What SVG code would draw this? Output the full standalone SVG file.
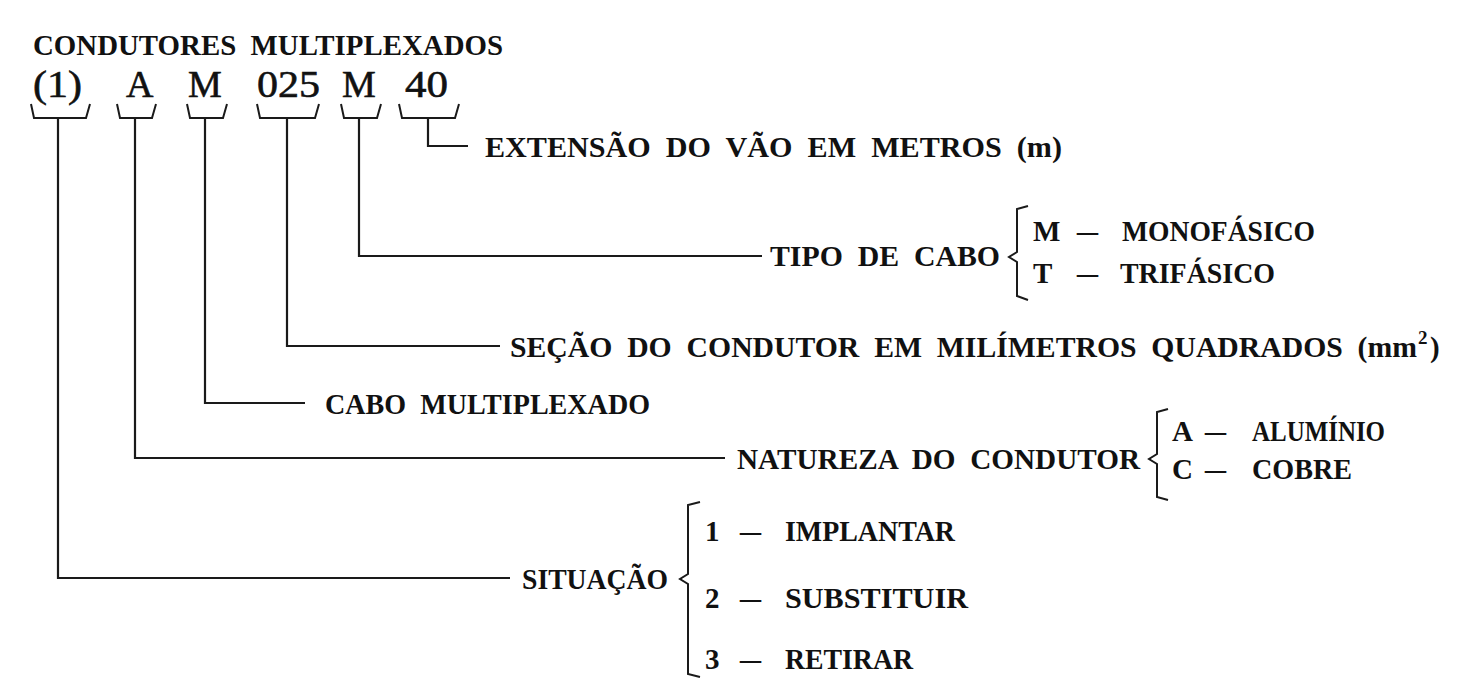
<svg xmlns="http://www.w3.org/2000/svg" width="1464" height="696" viewBox="0 0 1464 696">
<style>
.t{font-family:"Liberation Serif","Times New Roman",serif;font-weight:bold;font-size:29px;fill:#111;white-space:pre}
.c{font-family:"Liberation Serif","Times New Roman",serif;font-size:38px;fill:#111;stroke:#111;stroke-width:0.6}
.h{font-family:"Liberation Serif","Times New Roman",serif;font-weight:bold;font-size:29px;fill:#111;white-space:pre}
.ln{fill:none;stroke:#1a1a1a;stroke-width:2.2;stroke-linejoin:miter}
.br{fill:none;stroke:#1a1a1a;stroke-width:2}
</style>
<rect width="1464" height="696" fill="#fff"/>
<g id="title">
<text class="h" x="33" y="55" textLength="470" lengthAdjust="spacingAndGlyphs" xml:space="preserve">CONDUTORES  MULTIPLEXADOS</text>
</g>
<g id="code">
<text class="c" x="33" y="97" textLength="49" lengthAdjust="spacingAndGlyphs">(1)</text>
<text class="c" x="126" y="97">A</text>
<text class="c" x="188" y="97">M</text>
<text class="c" x="257" y="97" textLength="63" lengthAdjust="spacingAndGlyphs">025</text>
<text class="c" x="342" y="97">M</text>
<text class="c" x="405" y="97" textLength="43" lengthAdjust="spacingAndGlyphs">40</text>
</g>
<g id="connectors">
<path class="br" d="M31,104 L34,118 L86,118 L90,104"/>
<path class="br" d="M117,104 L120,118 L152,118 L156,104"/>
<path class="br" d="M187,104 L190,118 L223,118 L227,104"/>
<path class="br" d="M257,104 L260,118 L315,118 L319,104"/>
<path class="br" d="M341,104 L344,118 L377,118 L381,104"/>
<path class="br" d="M399,104 L402,118 L455,118 L459,104"/>
<path class="ln" d="M58,118 L58,578 L510,578"/>
<path class="ln" d="M135,118 L135,458 L725,458"/>
<path class="ln" d="M205,118 L205,403 L305,403"/>
<path class="ln" d="M287,118 L287,346 L500,346"/>
<path class="ln" d="M359,118 L359,256 L762,256"/>
<path class="ln" d="M428,118 L428,146 L468,146"/>
</g>
<g id="extensao">
<text class="t" x="485" y="157" textLength="577" lengthAdjust="spacingAndGlyphs" xml:space="preserve">EXTENSÃO  DO  VÃO  EM  METROS  (m)</text>
</g>
<g id="tipo">
<text class="t" x="770" y="266" textLength="230" lengthAdjust="spacingAndGlyphs" xml:space="preserve">TIPO  DE  CABO</text>
<path class="br" d="M1028,206 L1017,209 L1017,252 L1009,257 L1017,262 L1017,296 L1028,300"/>
<text class="t" y="241"><tspan x="1033">M</tspan><tspan x="1077" textLength="21" lengthAdjust="spacingAndGlyphs">–</tspan><tspan x="1122" textLength="193" lengthAdjust="spacingAndGlyphs">MONOFÁSICO</tspan></text>
<text class="t" y="283"><tspan x="1033">T</tspan><tspan x="1077" textLength="21" lengthAdjust="spacingAndGlyphs">–</tspan><tspan x="1120" textLength="155" lengthAdjust="spacingAndGlyphs">TRIFÁSICO</tspan></text>
</g>
<g id="secao">
<text class="t" y="357" xml:space="preserve"><tspan x="510" textLength="907" lengthAdjust="spacingAndGlyphs">SEÇÃO  DO  CONDUTOR  EM  MILÍMETROS  QUADRADOS  (mm</tspan><tspan x="1418" y="344" font-size="19">2</tspan><tspan x="1430" y="357">)</tspan></text>
</g>
<g id="cabo">
<text class="t" x="325" y="414" textLength="325" lengthAdjust="spacingAndGlyphs" xml:space="preserve">CABO  MULTIPLEXADO</text>
</g>
<g id="natureza">
<text class="t" x="737" y="469" textLength="403" lengthAdjust="spacingAndGlyphs" xml:space="preserve">NATUREZA  DO  CONDUTOR</text>
<path class="br" d="M1168,409 L1157,412 L1157,454 L1149,459 L1157,464 L1157,497 L1168,500"/>
<text class="t" y="441"><tspan x="1172">A</tspan><tspan x="1205" textLength="21" lengthAdjust="spacingAndGlyphs">–</tspan><tspan x="1252" textLength="133" lengthAdjust="spacingAndGlyphs">ALUMÍNIO</tspan></text>
<text class="t" y="479"><tspan x="1172">C</tspan><tspan x="1205" textLength="21" lengthAdjust="spacingAndGlyphs">–</tspan><tspan x="1252" textLength="100" lengthAdjust="spacingAndGlyphs">COBRE</tspan></text>
</g>
<g id="situacao">
<text class="t" x="522" y="589" textLength="146" lengthAdjust="spacingAndGlyphs">SITUAÇÃO</text>
<path class="br" d="M700,502 L688,505 L688,574 L680,579 L688,584 L688,674 L700,677"/>
<text class="t" y="541"><tspan x="705">1</tspan><tspan x="740" textLength="21" lengthAdjust="spacingAndGlyphs">–</tspan><tspan x="785" textLength="170" lengthAdjust="spacingAndGlyphs">IMPLANTAR</tspan></text>
<text class="t" y="608"><tspan x="705">2</tspan><tspan x="740" textLength="21" lengthAdjust="spacingAndGlyphs">–</tspan><tspan x="785" textLength="183" lengthAdjust="spacingAndGlyphs">SUBSTITUIR</tspan></text>
<text class="t" y="669"><tspan x="705">3</tspan><tspan x="740" textLength="21" lengthAdjust="spacingAndGlyphs">–</tspan><tspan x="785" textLength="128" lengthAdjust="spacingAndGlyphs">RETIRAR</tspan></text>
</g>
</svg>
